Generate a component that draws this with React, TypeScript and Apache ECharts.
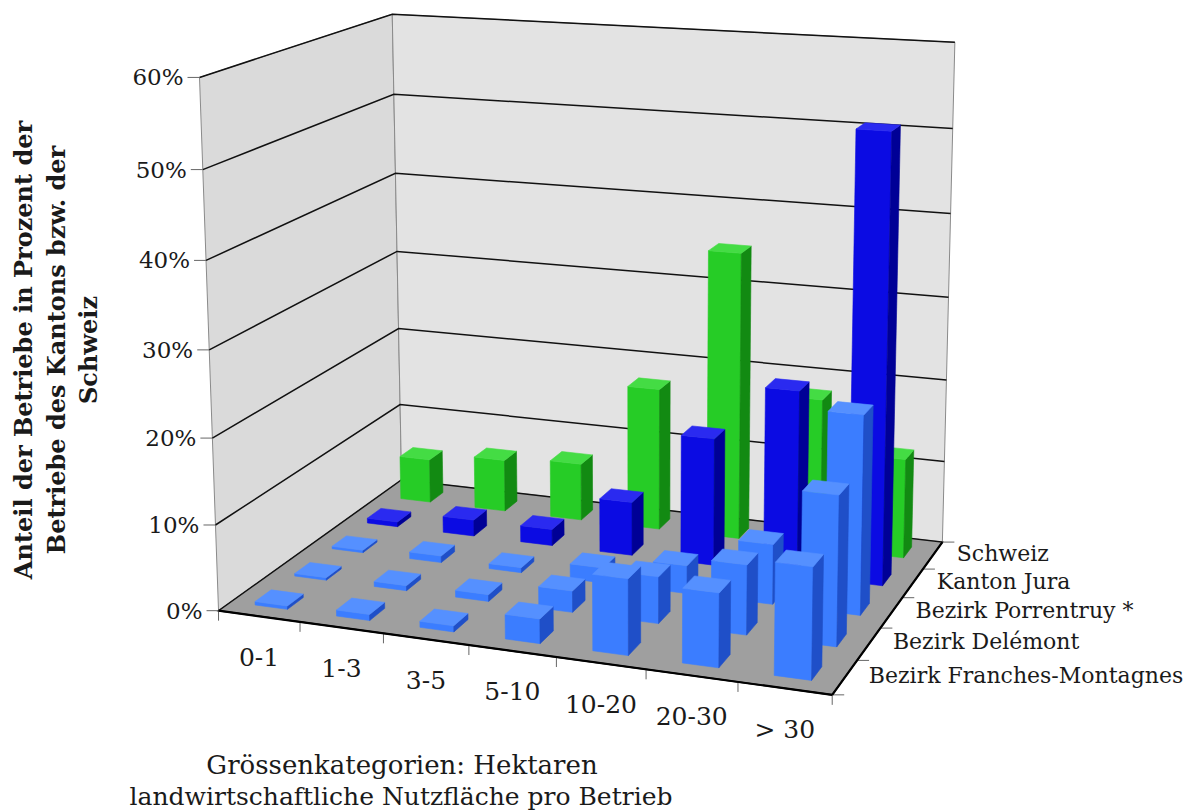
import React, { useEffect, useRef } from 'react';
import * as echarts from 'echarts';

// ---------------- data ----------------
const categories = ['0-1', '1-3', '3-5', '5-10', '10-20', '20-30', '> 30'];
// rows from front (0) to back (4)
const seriesNames = ['Bezirk Franches-Montagnes', 'Bezirk Delémont', 'Bezirk Porrentruy *', 'Kanton Jura', 'Schweiz'];
const franchesMontagnes = [0.4, 0.7, 0.7, 2.8, 8.6, 8.3, 12.4];
const delemont = [0.3, 0.6, 0.8, 2.5, 5.4, 8.0, 17.0];
const porrentruy = [0.3, 0.8, 0.6, 1.8, 3.3, 7.0, 23.0];
const kantonJura = [0.6, 2.0, 2.0, 6.5, 15.3, 22.0, 52.5];
const schweiz = [5.5, 6.5, 7.1, 17.5, 35.0, 18.2, 12.0];
const seriesValues = [franchesMontagnes, delemont, porrentruy, kantonJura, schweiz];
const yTicks = [0, 10, 20, 30, 40, 50, 60];
const yTickLabels = ['0%', '10%', '20%', '30%', '40%', '50%', '60%'];
const yTitleLines = ['Anteil der Betriebe in Prozent der', 'Betriebe des Kantons bzw. der', 'Schweiz'];
const xTitleLines = ['Grössenkategorien: Hektaren', 'landwirtschaftliche Nutzfläche pro Betrieb'];

// ---------------- styling / layout ----------------
const NX = categories.length;
const NZ = seriesNames.length;
const VMAX = 60;
const seriesColors = [
  { front: '#3b7dff', top: '#5590ff', side: '#1f4fc8' },
  { front: '#3b7dff', top: '#5590ff', side: '#1f4fc8' },
  { front: '#3b7dff', top: '#5590ff', side: '#1f4fc8' },
  { front: '#0b0be3', top: '#2a2af0', side: '#000096' },
  { front: '#26cc26', top: '#44dc44', side: '#128a12' },
];
// perspective calibration anchors: [X (category units), Z (row units), V (value), screenX, screenY]
const anchors: number[][] = [
  [0, 0, 0, 220, 610], [7, 0, 0, 830, 695], [0, 5, 0, 400, 481], [7, 5, 0, 938, 542],
  [0, 0, 60, 199, 77], [0, 5, 60, 393, 12], [7, 5, 60, 955, 44],
  [0, 0, 10, 217, 526], [0, 0, 20, 213, 439], [0, 0, 50, 202, 170],
  [0, 5, 10, 400, 405], [0, 5, 40, 395, 174], [0, 5, 50, 395, 94],
  [7, 5, 50, 952, 129], [7, 5, 40, 950, 213],
  [1, 0, 0, 300, 621], [2, 0, 0, 383, 633], [3, 0, 0, 468, 645], [4, 0, 0, 555, 657], [5, 0, 0, 645, 669], [6, 0, 0, 735, 682],
  [7, 1, 0, 860, 662], [7, 2, 0, 883, 627], [7, 3, 0, 907, 597], [7, 4, 0, 925, 568],
];

function fitProjection(pts: number[][]) {
  const n = 11;
  const M = Array.from({ length: n }, () => new Array(n + 1).fill(0));
  const addRow = (a: number[], b: number) => {
    for (let j = 0; j < n; j++) {
      for (let k = 0; k < n; k++) M[j][k] += a[j] * a[k];
      M[j][n] += a[j] * b;
    }
  };
  for (const [X, Z, V, u, v] of pts) {
    const x = X / NX, z = Z / NZ, y = V / VMAX;
    const un = (u - 500) / 500, vn = (v - 400) / 500;
    addRow([x, y, z, 1, 0, 0, 0, 0, -un * x, -un * y, -un * z], un);
    addRow([0, 0, 0, 0, x, y, z, 1, -vn * x, -vn * y, -vn * z], vn);
  }
  for (let c = 0; c < n; c++) {
    let p = c;
    for (let r = c + 1; r < n; r++) if (Math.abs(M[r][c]) > Math.abs(M[p][c])) p = r;
    const tmp = M[c]; M[c] = M[p]; M[p] = tmp;
    for (let r = 0; r < n; r++) {
      if (r === c) continue;
      const f = M[r][c] / M[c][c];
      for (let k = c; k <= n; k++) M[r][k] -= f * M[c][k];
    }
  }
  const P = M.map((row, i) => row[n] / row[i]);
  return (X: number, Z: number, V: number): number[] => {
    const x = X / NX, z = Z / NZ, y = V / VMAX;
    const w = P[8] * x + P[9] * y + P[10] * z + 1;
    return [
      500 + (500 * (P[0] * x + P[1] * y + P[2] * z + P[3])) / w,
      400 + (500 * (P[4] * x + P[5] * y + P[6] * z + P[7])) / w,
    ];
  };
}

const project = fitProjection(anchors);

// hidden helper grid: lets values pass through echarts scales
const G = { left: 0, top: 0, width: 700, height: 600 };

const SERIF = '"DejaVu Serif", "Liberation Serif", serif';

function buildOption() {
  const graphics: any[] = [];
  const poly = (pts: number[][], fill: string, stroke: string, lw: number, z = 0) =>
    graphics.push({ type: 'polygon', z, silent: true, shape: { points: pts }, style: { fill, stroke, lineWidth: lw } });
  const line = (a: number[], b: number[], stroke: string, lw: number, z = 1) =>
    graphics.push({ type: 'line', z, silent: true, shape: { x1: a[0], y1: a[1], x2: b[0], y2: b[1] }, style: { stroke, lineWidth: lw } });
  const text = (x: number, y: number, t: string, font: string, align: string, valign: string, rotation = 0) =>
    graphics.push({
      type: 'text', z: 10, silent: true, x, y, rotation,
      style: { text: t, font, fill: '#1a1a1a', align, verticalAlign: valign, textAlign: align, textVerticalAlign: valign },
    });

  // walls
  poly([project(0, 0, 0), project(0, 0, VMAX), project(0, NZ, VMAX), project(0, NZ, 0)], '#dadada', '#8a8a8a', 1);
  poly([project(0, NZ, 0), project(0, NZ, VMAX), project(NX, NZ, VMAX), project(NX, NZ, 0)], '#e3e3e3', '#8a8a8a', 1);
  // gridlines
  yTicks.forEach((v) => {
    if (v === 0) return;
    graphics.push({
      type: 'polyline', z: 1, silent: true,
      shape: { points: [project(0, 0, v), project(0, NZ, v), project(NX, NZ, v)] },
      style: { stroke: '#111', lineWidth: 1.5, fill: 'none' },
    });
  });
  // floor
  poly([project(0, 0, 0), project(NX, 0, 0), project(NX, NZ, 0), project(0, NZ, 0)], '#9f9f9f', '#111', 1.5, 1);
  line(project(0, 0, 0), project(NX, 0, 0), '#000', 2.2, 3);
  line(project(NX, 0, 0), project(NX, NZ, 0), '#000', 2.2, 3);

  // y ticks & labels
  yTicks.forEach((v, i) => {
    const p = project(0, 0, v);
    line([p[0] - 12, p[1]], p, '#666', 1);
    text(p[0] - 16, p[1], yTickLabels[i], `23px ${SERIF}`, 'right', 'middle');
  });
  // category ticks & labels
  for (let c = 0; c <= NX; c++) {
    const p = project(c, 0, 0);
    line(p, [p[0], p[1] + 10], '#666', 1);
  }
  categories.forEach((cat, c) => {
    const p = project(c + 0.5, 0, 0);
    text(p[0], p[1] + 41, cat, `25px ${SERIF}`, 'center', 'middle');
  });
  // series ticks & labels
  for (let z = 0; z <= NZ; z++) {
    const p = project(NX, z, 0);
    line(p, [p[0] + 12, p[1]], '#666', 1);
  }
  seriesNames.forEach((name, r) => {
    const p = project(NX, r + 0.5, 0);
    text(p[0] + 24, p[1] - 2, name, `22px ${SERIF}`, 'left', 'middle');
  });
  // axis titles
  text(402, 765, xTitleLines[0], `26px ${SERIF}`, 'center', 'middle');
  text(401, 796, xTitleLines[1], `25px ${SERIF}`, 'center', 'middle');
  const yTitleX = [23, 56, 88];
  yTitleLines.forEach((t, i) => text(yTitleX[i], 350, t, `bold 24px ${SERIF}`, 'center', 'middle', Math.PI / 2));

  // bar series (back to front)
  const series: any[] = [];
  for (let r = NZ - 1; r >= 0; r--) {
    const col = seriesColors[r];
    series.push({
      type: 'custom',
      name: seriesNames[r],
      coordinateSystem: 'cartesian2d',
      xAxisIndex: 0,
      yAxisIndex: 0,
      clip: false,
      encode: { x: 0, y: 1 },
      data: seriesValues[r].map((v, c) => [c + 0.5, v]),
      renderItem: (params: any, api: any) => {
        const base = api.coord([api.value(0), 0]);
        const topP = api.coord([api.value(0), api.value(1)]);
        const xc = ((base[0] - G.left) / G.width) * NX;
        const v = ((G.top + G.height - topP[1]) / G.height) * VMAX;
        const X0 = xc - 0.2, X1 = xc + 0.2, Z0 = r + 0.3, Z1 = r + 0.7;
        const face = (pts: number[][], fill: string) => ({
          type: 'polygon',
          shape: { points: pts },
          style: { fill, stroke: fill, lineWidth: 0.6 },
        });
        return {
          type: 'group',
          children: [
            face([project(X0, Z0, 0), project(X1, Z0, 0), project(X1, Z0, v), project(X0, Z0, v)], col.front),
            face([project(X1, Z0, 0), project(X1, Z1, 0), project(X1, Z1, v), project(X1, Z0, v)], col.side),
            face([project(X0, Z0, v), project(X1, Z0, v), project(X1, Z1, v), project(X0, Z1, v)], col.top),
          ],
        };
      },
    });
  }

  return {
    animation: false,
    grid: { left: G.left, top: G.top, width: G.width, height: G.height, show: false },
    xAxis: { type: 'value', min: 0, max: NX, show: false },
    yAxis: { type: 'value', min: 0, max: VMAX, show: false },
    graphic: { elements: graphics },
    series,
  };
}

export default function App() {
  const ref = useRef<HTMLDivElement>(null);
  useEffect(() => {
    if (!ref.current) return;
    const chart = echarts.init(ref.current, undefined, { renderer: 'svg' });
    chart.setOption(buildOption() as any);
    return () => chart.dispose();
  }, []);
  return (
    <div
      ref={ref}
      style={{ position: 'absolute', left: 0, top: 0, width: 1193, height: 810, background: '#ffffff' }}
    />
  );
}
